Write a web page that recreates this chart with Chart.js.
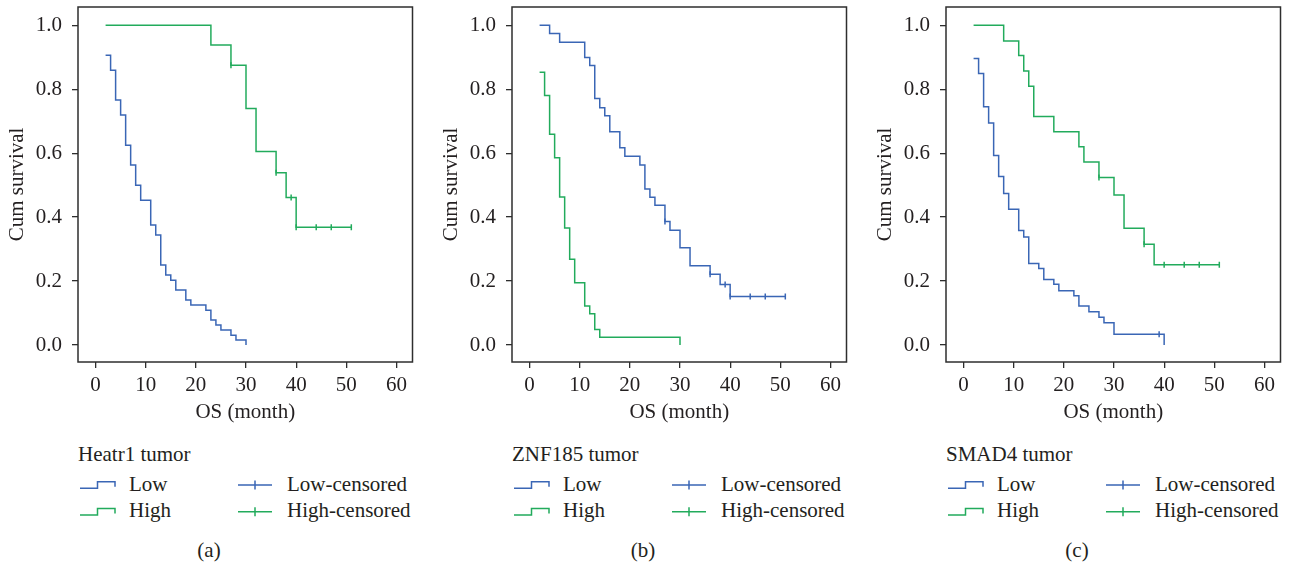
<!DOCTYPE html>
<html>
<head>
<meta charset="utf-8">
<script src="https://cdn.jsdelivr.net/npm/chart.js@4.4.1/dist/chart.umd.min.js"></script>
<style>
  html, body { margin: 0; padding: 0; background: #fff; }
  #page { position: relative; width: 1290px; height: 565px; overflow: hidden; font-family: "Liberation Serif", serif; }
  .panel { position: absolute; top: 0; width: 418px; height: 565px; }
  .panel canvas { position: absolute; left: 0; top: 0; }
  .panel svg { position: absolute; left: 0; top: 430px; }
  .panel svg text { font-family: "Liberation Serif", serif; font-size: 21px; fill: #231f20; }
</style>
</head>
<body>
<div id="page"></div>
<script>
/* Kaplan-Meier curves: step times (months), survival after each step, censor times */

// Heatr1
const heatr1LowTime  = [2, 3, 4, 5, 6, 7, 8, 9, 11, 12, 13, 14, 15, 16, 18, 19, 22, 23, 24, 25, 27, 28, 30];
const heatr1LowSurv  = [0.906, 0.859, 0.766, 0.719, 0.625, 0.563, 0.500, 0.453, 0.375, 0.344, 0.250, 0.219, 0.203, 0.172, 0.141, 0.125, 0.109, 0.078, 0.063, 0.047, 0.031, 0.016, 0];
const heatr1LowCens  = [];
const heatr1HighTime = [2, 23, 27, 30, 32, 36, 38, 40, 51];
const heatr1HighSurv = [1, 0.938, 0.875, 0.740, 0.605, 0.539, 0.461, 0.368, 0.368];
const heatr1HighCens = [27, 36, 39, 40, 44, 47, 51];

// ZNF185
const znf185LowTime  = [2, 4, 6, 11, 12, 13, 14, 15, 16, 18, 19, 22, 23, 24, 25, 27, 28, 30, 32, 36, 38, 40, 51];
const znf185LowSurv  = [1, 0.974, 0.947, 0.899, 0.874, 0.771, 0.742, 0.717, 0.667, 0.617, 0.590, 0.563, 0.488, 0.462, 0.437, 0.386, 0.359, 0.304, 0.248, 0.221, 0.189, 0.152, 0.152];
const znf185LowCens  = [27, 36, 39, 40, 44, 47, 51];
const znf185HighTime = [2, 3, 4, 5, 6, 7, 8, 9, 11, 12, 13, 14, 30];
const znf185HighSurv = [0.853, 0.780, 0.659, 0.586, 0.463, 0.366, 0.268, 0.195, 0.122, 0.098, 0.049, 0.024, 0];
const znf185HighCens = [];

// SMAD4
const smad4LowTime  = [2, 3, 4, 5, 6, 7, 8, 9, 11, 12, 13, 15, 16, 18, 19, 22, 23, 25, 27, 28, 30, 40];
const smad4LowSurv  = [0.896, 0.849, 0.745, 0.694, 0.593, 0.527, 0.474, 0.425, 0.358, 0.338, 0.255, 0.239, 0.205, 0.190, 0.170, 0.154, 0.122, 0.104, 0.087, 0.070, 0.034, 0];
const smad4LowCens  = [39];
const smad4HighTime = [2, 8, 11, 12, 13, 14, 18, 23, 24, 27, 30, 32, 36, 38, 51];
const smad4HighSurv = [1, 0.951, 0.905, 0.857, 0.809, 0.715, 0.667, 0.620, 0.572, 0.524, 0.469, 0.365, 0.315, 0.251, 0.251];
const smad4HighCens = [27, 36, 40, 44, 47, 51];

const xTicks = [0, 10, 20, 30, 40, 50, 60];
const yTicks = [0, 0.2, 0.4, 0.6, 0.8, 1.0];

const BLUE = '#3a66b5';
const GREEN = '#22ab5c';
const INK = '#231f20';
const FRAME = '#2e2e2e';
const FONT = '"Liberation Serif", serif';

const panels = [
    { left: 0,   name: 'Heatr1 tumor', tag: '(a)',
      low:  { t: heatr1LowTime,  s: heatr1LowSurv,  c: heatr1LowCens },
      high: { t: heatr1HighTime, s: heatr1HighSurv, c: heatr1HighCens } },
    { left: 434, name: 'ZNF185 tumor', tag: '(b)',
      low:  { t: znf185LowTime,  s: znf185LowSurv,  c: znf185LowCens },
      high: { t: znf185HighTime, s: znf185HighSurv, c: znf185HighCens } },
    { left: 868, name: 'SMAD4 tumor', tag: '(c)',
      low:  { t: smad4LowTime,  s: smad4LowSurv,  c: smad4LowCens },
      high: { t: smad4HighTime, s: smad4HighSurv, c: smad4HighCens } }
];

// survival level in effect at time x
function survAt(t, s, x) {
    let v = 1;
    for (let i = 0; i < t.length; i++) if (t[i] <= x) v = s[i];
    return v;
}

function curve(g, color) {
    return {
        data: g.t.map((x, i) => ({ x: x, y: g.s[i] })),
        borderColor: color,
        borderWidth: 1.5,
        stepped: true,
        pointRadius: 0,
        fill: false
    };
}

function censored(g, color) {
    return {
        data: g.c.map(x => ({ x: x, y: survAt(g.t, g.s, x) })),
        showLine: false,
        pointStyle: 'line',
        rotation: 90,
        pointRadius: 3,
        pointBorderColor: color,
        pointBorderWidth: 1.5,
        borderColor: color
    };
}

// box around the plot area
const framePlugin = {
    id: 'frame',
    afterDraw(chart) {
        const { ctx, chartArea: a } = chart;
        ctx.save();
        ctx.strokeStyle = FRAME;
        ctx.lineWidth = 1.5;
        ctx.strokeRect(a.left, a.top, a.right - a.left, a.bottom - a.top);
        ctx.restore();
    }
};

const tickFont = { family: FONT, size: 21 };

function buildLegend(p) {
    const ns = 'http://www.w3.org/2000/svg';
    const svg = document.createElementNS(ns, 'svg');
    svg.setAttribute('width', 418);
    svg.setAttribute('height', 135);
    const L = 78;
    const add = (tag, attrs, txt) => {
        const el = document.createElementNS(ns, tag);
        for (const k in attrs) el.setAttribute(k, attrs[k]);
        if (txt) el.textContent = txt;
        svg.appendChild(el);
    };
    add('text', { x: L, y: 30.7 }, p.name);
    const rows = [['Low', BLUE, 0], ['High', GREEN, 26.7]];
    rows.forEach(([label, color, dy]) => {
        const lo = 58.3 + dy, hi = 51.7 + dy;
        add('path', { d: `M${L + 2},${lo} H${L + 19.5} V${hi} H${L + 37} V${lo - 1.5}`,
                      fill: 'none', stroke: color, 'stroke-width': 1.5 });
        add('text', { x: L + 51, y: 60.7 + dy }, label);
        const cy = 55 + dy;
        add('path', { d: `M${L + 160},${cy} H${L + 194} M${L + 177},${cy - 4.5} V${cy + 4.5}`,
                      fill: 'none', stroke: color, 'stroke-width': 1.5 });
        add('text', { x: L + 209, y: 60.7 + dy }, label + '-censored');
    });
    add('text', { x: L + 131, y: 126.7, 'text-anchor': 'middle' }, p.tag);
    return svg;
}

function drawPanels() {
    const page = document.getElementById('page');
    panels.forEach(p => {
        const div = document.createElement('div');
        div.className = 'panel';
        div.style.left = p.left + 'px';
        const canvas = document.createElement('canvas');
        canvas.width = 418;
        canvas.height = 430;
        div.appendChild(canvas);
        div.appendChild(buildLegend(p));
        page.appendChild(div);

        new Chart(canvas, {
            type: 'line',
            data: {
                datasets: [
                    curve(p.low, BLUE),
                    curve(p.high, GREEN),
                    censored(p.low, BLUE),
                    censored(p.high, GREEN)
                ]
            },
            options: {
                responsive: false,
                animation: false,
                devicePixelRatio: 1,
                layout: { padding: { top: 7, right: 4, left: 0, bottom: 0 } },
                plugins: { legend: { display: false }, tooltip: { enabled: false } },
                scales: {
                    x: {
                        type: 'linear',
                        min: -3.5,
                        max: 63.2,
                        afterBuildTicks: s => { s.ticks = xTicks.map(v => ({ value: v })); },
                        afterFit: s => { s.height = 68; s.paddingLeft = 0; s.paddingRight = 0; },
                        grid: { drawOnChartArea: false, drawTicks: true, tickLength: 6, color: FRAME, lineWidth: 1.3 },
                        border: { display: false },
                        ticks: { color: INK, font: tickFont, padding: 5, maxRotation: 0, autoSkip: false },
                        title: { display: true, text: 'OS (month)', color: INK, font: tickFont, padding: { top: 0, bottom: 5 } }
                    },
                    y: {
                        type: 'linear',
                        min: -0.053,
                        max: 1.057,
                        afterBuildTicks: s => { s.ticks = yTicks.map(v => ({ value: v })); },
                        afterFit: s => { s.width = 78; s.paddingTop = 0; s.paddingBottom = 0; },
                        grid: { drawOnChartArea: false, drawTicks: true, tickLength: 6, color: FRAME, lineWidth: 1.3 },
                        border: { display: false },
                        ticks: { color: INK, font: tickFont, padding: 10, autoSkip: false, callback: v => v.toFixed(1) },
                        title: { display: true, text: 'Cum survival', color: INK, font: tickFont, padding: { top: 5, bottom: 0 } }
                    }
                }
            },
            plugins: [framePlugin]
        });
    });
}

// make sure the serif face is ready before the canvases paint text
document.fonts.load('21px "Liberation Serif"').then(drawPanels, drawPanels);
</script>
</body>
</html>
